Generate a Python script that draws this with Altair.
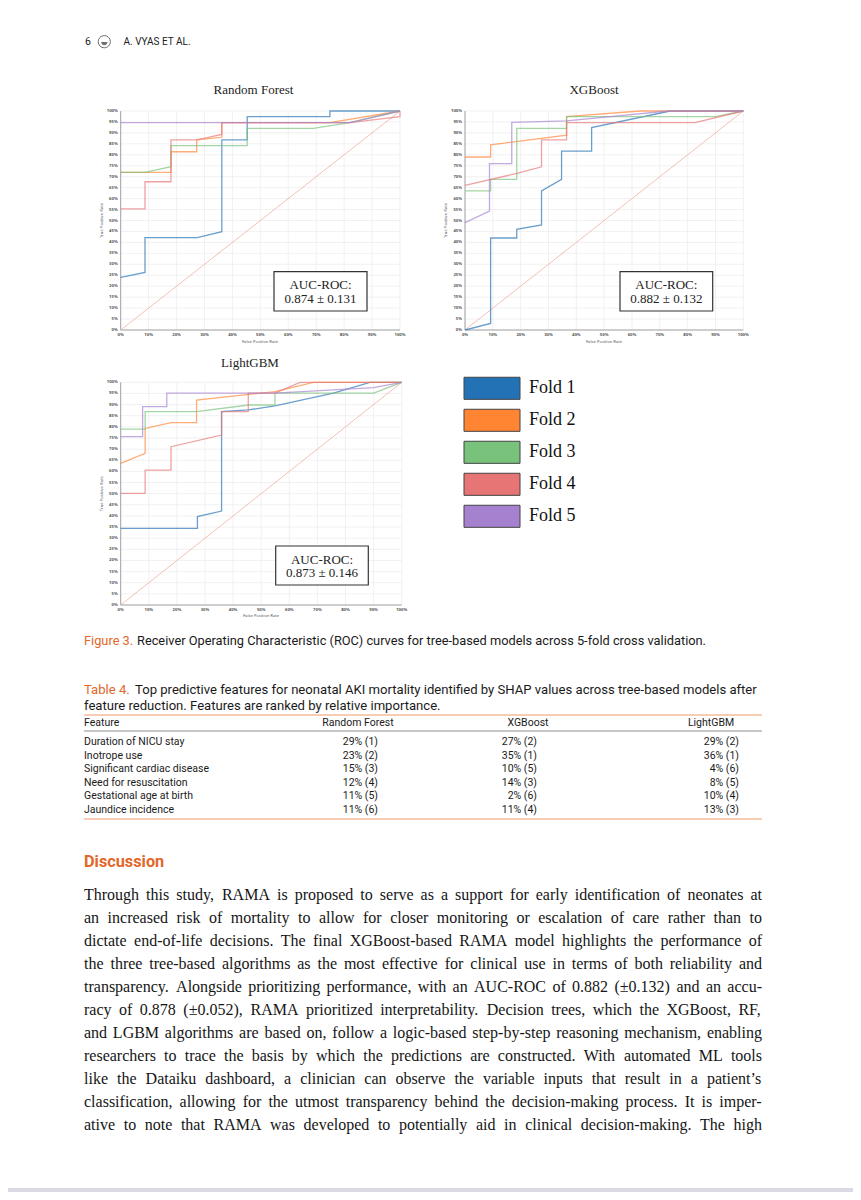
import altair as alt
import pandas as pd

# ---------------------------------------------------------------- data
FOLDS = ["Fold 1", "Fold 2", "Fold 3", "Fold 4", "Fold 5"]
FOLD_COLORS = ["#2372b5", "#ff8533", "#79c27b", "#e77575", "#a581d0"]

# Random Forest ROC curves (false positive rate, true positive rate)
RF_F1_FPR = [0, 0.087, 0.087, 0.274, 0.362, 0.362, 0.453, 0.453, 0.749, 0.749, 1.0]
RF_F1_TPR = [0.24, 0.263, 0.422, 0.422, 0.449, 0.868, 0.868, 0.974, 0.974, 1.0, 1.0]
RF_F2_FPR = [0, 0.18, 0.18, 0.272, 0.272, 0.362, 0.362, 0.749, 1.0]
RF_F2_TPR = [0.72, 0.72, 0.814, 0.814, 0.868, 0.88, 0.947, 0.947, 1.0]
RF_F3_FPR = [0, 0.087, 0.18, 0.18, 0.453, 0.453, 0.69, 0.82, 1.0]
RF_F3_TPR = [0.72, 0.72, 0.746, 0.842, 0.842, 0.921, 0.921, 0.947, 1.0]
RF_F4_FPR = [0, 0.087, 0.087, 0.18, 0.18, 0.272, 0.362, 0.362, 0.82, 1.0, 1.0]
RF_F4_TPR = [0.553, 0.553, 0.677, 0.677, 0.868, 0.868, 0.893, 0.947, 0.947, 0.974, 1.0]
RF_F5_FPR = [0, 0.82, 1.0]
RF_F5_TPR = [0.947, 0.947, 1.0]

# XGBoost ROC curves
XGB_F1_FPR = [0, 0.092, 0.092, 0.186, 0.186, 0.275, 0.275, 0.347, 0.347, 0.455, 0.455, 0.737, 1.0]
XGB_F1_TPR = [0, 0.03, 0.42, 0.42, 0.46, 0.48, 0.635, 0.688, 0.817, 0.817, 0.924, 1.0, 1.0]
XGB_F2_FPR = [0, 0.092, 0.092, 0.365, 0.365, 0.63, 1.0]
XGB_F2_TPR = [0.79, 0.79, 0.845, 0.89, 0.974, 1.0, 1.0]
XGB_F3_FPR = [0, 0.092, 0.092, 0.186, 0.186, 0.365, 0.365, 0.9, 1.0]
XGB_F3_TPR = [0.635, 0.635, 0.688, 0.688, 0.921, 0.921, 0.974, 0.974, 1.0]
XGB_F4_FPR = [0, 0.186, 0.275, 0.275, 0.365, 0.365, 0.826, 1.0]
XGB_F4_TPR = [0.66, 0.715, 0.745, 0.868, 0.868, 0.947, 0.947, 1.0]
XGB_F5_FPR = [0, 0.088, 0.088, 0.168, 0.168, 0.365, 0.73, 1.0]
XGB_F5_TPR = [0.49, 0.543, 0.76, 0.76, 0.948, 0.955, 1.0, 1.0]

# LightGBM ROC curves
LGB_F1_FPR = [0, 0.273, 0.273, 0.359, 0.359, 0.454, 0.549, 0.757, 0.887, 1.0]
LGB_F1_TPR = [0.344, 0.344, 0.397, 0.422, 0.868, 0.876, 0.894, 0.951, 1.0, 1.0]
LGB_F2_FPR = [0, 0.087, 0.087, 0.179, 0.27, 0.27, 0.549, 0.686, 1.0]
LGB_F2_TPR = [0.636, 0.681, 0.793, 0.819, 0.819, 0.92, 0.958, 1.0, 1.0]
LGB_F3_FPR = [0, 0.087, 0.087, 0.27, 0.454, 0.549, 0.549, 0.9, 1.0]
LGB_F3_TPR = [0.79, 0.79, 0.868, 0.868, 0.898, 0.898, 0.951, 0.951, 1.0]
LGB_F4_FPR = [0, 0.087, 0.087, 0.179, 0.179, 0.359, 0.359, 0.454, 0.454, 0.549, 0.638, 1.0]
LGB_F4_TPR = [0.501, 0.501, 0.606, 0.606, 0.711, 0.763, 0.868, 0.868, 0.951, 0.951, 1.0, 1.0]
LGB_F5_FPR = [0, 0.078, 0.078, 0.164, 0.164, 0.549, 0.9, 1.0]
LGB_F5_TPR = [0.756, 0.756, 0.891, 0.891, 0.951, 0.951, 0.976, 1.0]

AUC_TEXT = {"rf": "0.874 ± 0.131", "xgb": "0.882 ± 0.132", "lgb": "0.873 ± 0.146"}

X_TICKS = [0.0, 0.1, 0.2, 0.3, 0.4, 0.5, 0.6, 0.7, 0.8, 0.9, 1.0]
X_TICK_LABELS = ["0%", "10%", "20%", "30%", "40%", "50%", "60%", "70%", "80%", "90%", "100%"]
Y_TICKS = [0.0, 0.05, 0.1, 0.15, 0.2, 0.25, 0.3, 0.35, 0.4, 0.45, 0.5,
           0.55, 0.6, 0.65, 0.7, 0.75, 0.8, 0.85, 0.9, 0.95, 1.0]
Y_TICK_LABELS = ["0%", "5%", "10%", "15%", "20%", "25%", "30%", "35%", "40%", "45%", "50%",
                 "55%", "60%", "65%", "70%", "75%", "80%", "85%", "90%", "95%", "100%"]

# Table 4
TABLE_FEATURES = ["Duration of NICU stay", "Inotrope use", "Significant cardiac disease",
                  "Need for resuscitation", "Gestational age at birth", "Jaundice incidence"]
TABLE_RF = ["29% (1)", "23% (2)", "15% (3)", "12% (4)", "11% (5)", "11% (6)"]
TABLE_XGB = ["27% (2)", "35% (1)", "10% (5)", "14% (3)", "2% (6)", "11% (4)"]
TABLE_LGB = ["29% (2)", "36% (1)", "4% (6)", "8% (5)", "10% (4)", "13% (3)"]

PARAGRAPH = [
    "Through this study, RAMA is proposed to serve as a support for early identification of neonates at",
    "an increased risk of mortality to allow for closer monitoring or escalation of care rather than to",
    "dictate end-of-life decisions. The final XGBoost-based RAMA model highlights the performance of",
    "the three tree-based algorithms as the most effective for clinical use in terms of both reliability and",
    "transparency. Alongside prioritizing performance, with an AUC-ROC of 0.882 (±0.132) and an accu-",
    "racy of 0.878 (±0.052), RAMA prioritized interpretability. Decision trees, which the XGBoost, RF,",
    "and LGBM algorithms are based on, follow a logic-based step-by-step reasoning mechanism, enabling",
    "researchers to trace the basis by which the predictions are constructed. With automated ML tools",
    "like the Dataiku dashboard, a clinician can observe the variable inputs that result in a patient\u2019s",
    "classification, allowing for the utmost transparency behind the decision-making process. It is imper-",
    "ative to note that RAMA was developed to potentially aid in clinical decision-making. The high",
]

# ---------------------------------------------------------------- styling
W, H = 845, 1184
OFF = 8  # page margin
SERIF = "Liberation Serif"
SANS = "Roboto"
ORANGE = "#e2672a"
RULE_ORANGE = "#ee9a66"
PARA_SIZE = 16.0
TEXT_LEFT, TEXT_RIGHT = 84, 762

# Times-compatible advance widths (per 1000 em) used to justify the body text
_W = {" ": 250, "!": 333, "(": 333, ")": 333, ",": 250, "-": 333, ".": 250, ":": 278, ";": 278,
      "±": 564, "\u2019": 333, "'": 333,
      "A": 722, "B": 667, "C": 667, "D": 722, "E": 611, "F": 556, "G": 722, "H": 722, "I": 333,
      "J": 389, "K": 722, "L": 611, "M": 889, "N": 722, "O": 722, "P": 556, "Q": 722, "R": 667,
      "S": 556, "T": 611, "U": 722, "V": 722, "W": 944, "X": 722, "Y": 722, "Z": 611,
      "a": 444, "b": 500, "c": 444, "d": 500, "e": 444, "f": 333, "g": 500, "h": 500, "i": 278,
      "j": 278, "k": 500, "l": 278, "m": 778, "n": 500, "o": 500, "p": 500, "q": 500, "r": 333,
      "s": 389, "t": 278, "u": 500, "v": 500, "w": 722, "x": 500, "y": 500, "z": 444}


def word_width(w, size):
    return sum(_W.get(ch, 500) for ch in w) / 1000.0 * size


def P(v):
    return v - OFF


def txt(text, x, y, size, font=SANS, color="#1a1a1a", align="left", weight="normal", angle=0):
    df = pd.DataFrame({"t": [text]})
    return alt.Chart(df).mark_text(
        fontSize=size, font=font, color=color, align=align, baseline="middle",
        fontWeight=weight, angle=angle
    ).encode(text="t:N", x=alt.value(P(x)), y=alt.value(P(y)))


def curves_df(fprs, tprs):
    rows = []
    for fold, xs, ys in zip(FOLDS, fprs, tprs):
        for i, (a, b) in enumerate(zip(xs, ys)):
            rows.append({"fold": fold, "i": i, "fpr": a, "tpr": b})
    return pd.DataFrame(rows)


color_scale = alt.Scale(domain=FOLDS, range=FOLD_COLORS)


def panel(fprs, tprs, x0, x1, yt, yb, title, tx, ty, auc, box, ytx, xtx, xty):
    xs = alt.Scale(domain=[0, 1], range=[P(x0), P(x1)])
    ys = alt.Scale(domain=[0, 1], range=[P(yb), P(yt)])
    X = lambda f: alt.X(f, scale=xs, axis=None)
    Y = lambda f: alt.Y(f, scale=ys, axis=None)
    layers = []
    vg = pd.DataFrame({"v": X_TICKS, "a": 0.0, "b": 1.0, "lab": X_TICK_LABELS})
    hg = pd.DataFrame({"v": Y_TICKS, "a": 0.0, "b": 1.0, "lab": Y_TICK_LABELS})
    layers.append(alt.Chart(vg).mark_rule(color="#ebebeb", strokeWidth=0.7).encode(
        x=X("v:Q"), y=Y("a:Q"), y2="b:Q"))
    layers.append(alt.Chart(hg).mark_rule(color="#ebebeb", strokeWidth=0.7).encode(
        y=Y("v:Q"), x=X("a:Q"), x2="b:Q"))
    # axis lines
    layers.append(alt.Chart(vg.head(1)).mark_rule(color="#9a9a9a", strokeWidth=0.9).encode(
        x=X("a:Q"), y=Y("a:Q"), y2="b:Q"))
    layers.append(alt.Chart(hg.head(1)).mark_rule(color="#9a9a9a", strokeWidth=0.9).encode(
        y=Y("a:Q"), x=X("a:Q"), x2="b:Q"))
    # tick labels
    layers.append(alt.Chart(vg).mark_text(fontSize=4.2, font="Noto Sans", fontWeight="bold",
                                          color="#555", baseline="top", dy=3).encode(
        x=X("v:Q"), y=Y("a:Q"), text="lab:N"))
    layers.append(alt.Chart(hg).mark_text(fontSize=4.2, font="Noto Sans", fontWeight="bold",
                                          color="#555", align="right", baseline="middle", dx=-3).encode(
        y=Y("v:Q"), x=X("a:Q"), text="lab:N"))
    # chance diagonal
    diag = pd.DataFrame({"fpr": [0.0, 1.0], "tpr": [0.0, 1.0]})
    layers.append(alt.Chart(diag).mark_line(color="#f2b9ae", strokeWidth=0.9).encode(
        x=X("fpr:Q"), y=Y("tpr:Q")))
    # fold curves
    layers.append(alt.Chart(curves_df(fprs, tprs)).mark_line(strokeWidth=1.3, opacity=0.68).encode(
        x=X("fpr:Q"), y=Y("tpr:Q"),
        color=alt.Color("fold:N", scale=color_scale, legend=None),
        order="i:Q"))
    # axis titles & panel title
    layers.append(txt("True Positive Rate", ytx, (yt + yb) / 2, 4.2, font="Noto Sans", color="#555", align="center", angle=270))
    layers.append(txt("False Positive Rate", xtx, xty, 4.2, font="Noto Sans", color="#555", align="center"))
    layers.append(txt(title, tx, ty, 13, font=SERIF, color="#222", align="center"))
    # AUC box
    bx0, bx1, by0, by1 = box
    layers.append(alt.Chart(pd.DataFrame({"t": [0]})).mark_rect(
        fill="white", stroke="#333", strokeWidth=1.2).encode(
        x=alt.value(P(bx0)), x2=alt.value(P(bx1)), y=alt.value(P(by0)), y2=alt.value(P(by1))))
    cx = (bx0 + bx1) / 2
    layers.append(txt("AUC-ROC:", cx, by0 + 13.5, 13, font=SERIF, color="#222", align="center"))
    layers.append(txt(auc, cx, by0 + 27, 13, font=SERIF, color="#222", align="center"))
    return layers


layers = []
layers += panel([RF_F1_FPR, RF_F2_FPR, RF_F3_FPR, RF_F4_FPR, RF_F5_FPR],
                [RF_F1_TPR, RF_F2_TPR, RF_F3_TPR, RF_F4_TPR, RF_F5_TPR],
                120.7, 400, 111, 330, "Random Forest", 253.5, 90, AUC_TEXT["rf"],
                (274, 367, 271.7, 311), 102, 260, 341.5)
layers += panel([XGB_F1_FPR, XGB_F2_FPR, XGB_F3_FPR, XGB_F4_FPR, XGB_F5_FPR],
                [XGB_F1_TPR, XGB_F2_TPR, XGB_F3_TPR, XGB_F4_TPR, XGB_F5_TPR],
                465, 743.3, 111, 330, "XGBoost", 594, 90, AUC_TEXT["xgb"],
                (620, 712.7, 271.7, 311), 446, 604, 341.5)
layers += panel([LGB_F1_FPR, LGB_F2_FPR, LGB_F3_FPR, LGB_F4_FPR, LGB_F5_FPR],
                [LGB_F1_TPR, LGB_F2_TPR, LGB_F3_TPR, LGB_F4_TPR, LGB_F5_TPR],
                120.7, 401.7, 382.3, 605, "LightGBM", 250, 363, AUC_TEXT["lgb"],
                (275.7, 368.3, 546, 585), 102, 261, 615.5)

# ---- manual fold legend
leg = pd.DataFrame({"fold": FOLDS, "k": [0, 1, 2, 3, 4]})
leg["k0"] = leg["k"] - 0.345
leg["k1"] = leg["k"] + 0.345
lys = alt.Scale(domain=[0, 4], range=[P(388.3), P(516.3)])
layers.append(alt.Chart(leg).mark_rect(stroke="#444", strokeWidth=1).encode(
    x=alt.value(P(464)), x2=alt.value(P(520)),
    y=alt.Y("k0:Q", scale=lys, axis=None), y2="k1:Q",
    color=alt.Color("fold:N", scale=color_scale, legend=None)))
layers.append(alt.Chart(leg).mark_text(font=SERIF, fontSize=18, align="left", baseline="middle",
                                       color="#111").encode(
    x=alt.value(P(529)), y=alt.Y("k:Q", scale=lys, axis=None), text="fold:N"))

# ---- running header
layers.append(txt("6", 85, 42, 10.5, color="#222"))
layers.append(alt.Chart(pd.DataFrame({"t": [0]})).mark_point(
    shape="circle", size=150, filled=False, stroke="#333", strokeWidth=1).encode(
    x=alt.value(P(104.3)), y=alt.value(P(41.7))))
layers.append(alt.Chart(pd.DataFrame({"t": [0]})).mark_point(
    shape="M-1,0L1,0A1,1 0 0 1 -1,0Z", size=40, filled=True, color="#333").encode(
    x=alt.value(P(104.3)), y=alt.value(P(42))))
layers.append(txt("A. VYAS ET AL.", 123.5, 42, 10, color="#222"))

# ---- figure caption
layers.append(txt("Figure 3.", 84, 641, 12.8, color=ORANGE))
layers.append(txt("Receiver Operating Characteristic (ROC) curves for tree-based models across 5-fold cross validation.",
                  137, 641, 12.8))

# ---- table
layers.append(txt("Table 4.", 84, 690, 13.1, color=ORANGE))
layers.append(txt("Top predictive features for neonatal AKI mortality identified by SHAP values across tree-based models after",
                  135, 690, 13.1))
layers.append(txt("feature reduction. Features are ranked by relative importance.", 84, 706, 13.1))
for yy, col, sw in [(715, RULE_ORANGE, 1.2), (731, "#444", 0.6), (819, RULE_ORANGE, 1.2)]:
    layers.append(alt.Chart(pd.DataFrame({"t": [0]})).mark_rule(color=col, strokeWidth=sw).encode(
        x=alt.value(P(84)), x2=alt.value(P(762)), y=alt.value(P(yy))))
layers.append(txt("Feature", 84, 723, 10.5))
layers.append(txt("Random Forest", 358, 723, 10.5, align="center"))
layers.append(txt("XGBoost", 528, 723, 10.5, align="center"))
layers.append(txt("LightGBM", 711, 723, 10.5, align="center"))
tab = pd.DataFrame({"row": list(range(len(TABLE_FEATURES))), "feature": TABLE_FEATURES,
                    "rf": TABLE_RF, "xgb": TABLE_XGB, "lgb": TABLE_LGB})
rys = alt.Scale(domain=[0, 5], range=[P(742), P(810)])
for field, xx, al in [("feature", 84, "left"), ("rf", 378, "right"), ("xgb", 537, "right"), ("lgb", 739, "right")]:
    layers.append(alt.Chart(tab).mark_text(font=SANS, fontSize=10.5, align=al, baseline="middle",
                                           color="#1a1a1a").encode(
        x=alt.value(P(xx)), y=alt.Y("row:Q", scale=rys, axis=None), text=f"{field}:N"))

# ---- discussion (justified body text: words spread across the measure)
layers.append(txt("Discussion", 84, 862, 16.3, color=ORANGE, weight="bold"))
measure = TEXT_RIGHT - TEXT_LEFT
rows = []
for li, line in enumerate(PARAGRAPH):
    words = line.split(" ")
    widths = [word_width(w, PARA_SIZE) for w in words]
    gap = (measure - sum(widths)) / (len(words) - 1)
    pos = 0.0
    for w, wd in zip(words, widths):
        rows.append({"line": li, "word": w, "pos": pos})
        pos += wd + gap
para = pd.DataFrame(rows)
pxs = alt.Scale(domain=[0, measure], range=[P(TEXT_LEFT), P(TEXT_RIGHT)])
pys = alt.Scale(domain=[0, 10], range=[P(895), P(1125)])
layers.append(alt.Chart(para).mark_text(font=SERIF, fontSize=PARA_SIZE, align="left", baseline="middle",
                                        color="#151515").encode(
    x=alt.X("pos:Q", scale=pxs, axis=None), y=alt.Y("line:Q", scale=pys, axis=None), text="word:N"))

# ---- footer band
layers.append(alt.Chart(pd.DataFrame({"t": [0]})).mark_rect(color="#dadae4").encode(
    x=alt.value(0), x2=alt.value(W), y=alt.value(P(1188)), y2=alt.value(H)))

chart = alt.layer(*layers).resolve_scale(x="independent", y="independent").properties(
    width=W, height=H, padding=0,
    autosize=alt.AutoSizeParams(type="none"),
).configure_view(stroke=None)

chart.save("out.html", embed_options={"renderer": "svg", "actions": False})
